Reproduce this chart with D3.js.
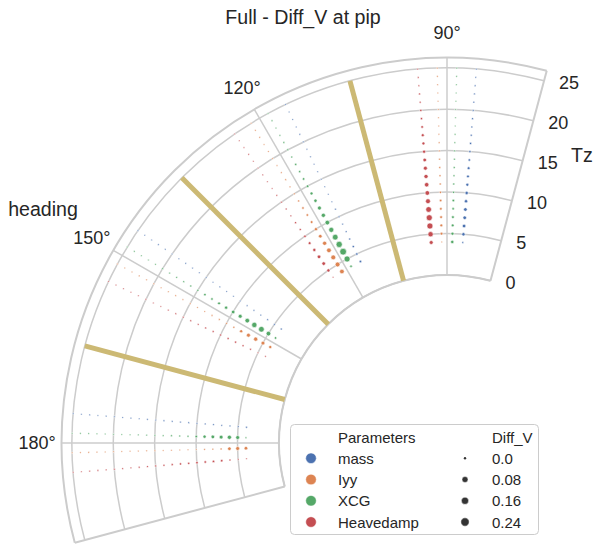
<!DOCTYPE html>
<html>
<head>
<meta charset="utf-8">
<script src="https://cdn.jsdelivr.net/npm/d3@7"></script>
<style>
  body { margin: 0; background: #fff; }
  svg { display: block; }
  text { font-family: "Liberation Sans", Arial, sans-serif; fill: #262626; }
</style>
</head>
<body>
<svg id="chart" width="593" height="546"></svg>
<script>
// ---- data ----
const headings = [90, 120, 150, 180];
const tzValues = [4, 5, 6, 7, 8, 9, 10, 11, 12, 13, 14, 15, 16, 17, 18, 19, 20, 21, 22, 23, 24, 25];
const seriesNames = ["mass", "Iyy", "XCG", "Heavedamp"];
const seriesColors = ["#4C72B0", "#DD8452", "#55A868", "#C44E52"];
// each parameter is dodged around its heading (degrees)
const headingOffset = [-4.5, 1.5, -1.5, 4.5];

// Diff_V per heading (rows: 90, 120, 150, 180), columns follow tzValues
const diffMass = [
  [0.002, 0.02, 0.025, 0.025, 0.025, 0.02, 0.02, 0.015, 0.012, 0.012, 0.008, 0.006, 0.005, 0.004, 0.003, 0.003, 0.002, 0.002, 0.001, 0.001, 0, 0],
  [0.008, 0.008, 0.006, 0.004, 0.002, 0.001, 0.001, 0.001, 0, 0, 0, 0, 0, 0, 0, 0, 0, 0, 0, 0, 0, 0],
  [0.003, 0.001, 0.001, 0.001, 0.001, 0, 0, 0, 0, 0, 0, 0, 0, 0, 0, 0, 0, 0, 0, 0, 0, 0],
  [0.002, 0.001, 0.001, 0.001, 0.001, 0.001, 0.001, 0.001, 0.001, 0.001, 0.001, 0, 0, 0, 0, 0, 0, 0, 0, 0, 0, 0]
];
const diffIyy = [
  [0, 0.012, 0.012, 0.012, 0.01, 0.008, 0.006, 0.005, 0.004, 0.003, 0.002, 0.001, 0.001, 0, 0, 0, 0, 0, 0, 0, 0, 0],
  [0.045, 0.05, 0.05, 0.045, 0.035, 0.025, 0.018, 0.012, 0.008, 0.008, 0.004, 0.002, 0.001, 0.001, 0, 0, 0, 0, 0, 0, 0, 0],
  [0.018, 0.03, 0.035, 0.03, 0.018, 0.004, 0.002, 0.001, 0.001, 0, 0, 0, 0, 0, 0, 0, 0, 0, 0, 0, 0, 0],
  [0.025, 0.03, 0.025, 0.004, 0.001, 0.001, 0, 0, 0, 0, 0, 0, 0, 0, 0, 0, 0, 0, 0, 0, 0, 0]
];
const diffXCG = [
  [0.02, 0.015, 0.012, 0.012, 0.008, 0.008, 0.005, 0.005, 0.003, 0.003, 0.002, 0.002, 0.001, 0.001, 0, 0, 0, 0, 0, 0, 0, 0],
  [0.008, 0.08, 0.12, 0.09, 0.07, 0.055, 0.045, 0.035, 0.03, 0.02, 0.015, 0.01, 0.008, 0.005, 0.005, 0.003, 0.003, 0.002, 0.001, 0.001, 0.001, 0],
  [0.008, 0.045, 0.07, 0.06, 0.045, 0.03, 0.025, 0.018, 0.012, 0.008, 0.008, 0.004, 0.004, 0.002, 0.002, 0.001, 0.001, 0, 0, 0, 0, 0],
  [0.001, 0.03, 0.035, 0.03, 0.025, 0.018, 0.008, 0.004, 0.002, 0.002, 0.001, 0.001, 0, 0, 0, 0, 0, 0, 0, 0, 0, 0]
];
const diffHeavedamp = [
  [0.03, 0.06, 0.08, 0.08, 0.07, 0.05, 0.045, 0.04, 0.035, 0.03, 0.025, 0.018, 0.014, 0.014, 0.01, 0.006, 0.006, 0.003, 0.003, 0.001, 0.001, 0],
  [0, 0.018, 0.025, 0.025, 0.018, 0.012, 0.008, 0.004, 0.004, 0.002, 0.002, 0.001, 0.001, 0, 0, 0, 0, 0, 0, 0, 0, 0],
  [0, 0, 0.002, 0.004, 0.004, 0.004, 0.004, 0.003, 0.003, 0.002, 0.002, 0.001, 0.001, 0.001, 0, 0, 0, 0, 0, 0, 0, 0],
  [0, 0, 0.004, 0.008, 0.008, 0.008, 0.008, 0.006, 0.006, 0.004, 0.004, 0.003, 0.002, 0.002, 0.001, 0.001, 0.001, 0.001, 0.001, 0.001, 0, 0]
];
const seriesDiff = [diffMass, diffIyy, diffXCG, diffHeavedamp];

// sector boundaries (heading, from Tz 0 to Tz 25)
const sectorHeadings = [105, 135, 165];
const sectorTz = [0, 25];

const radialTicks = [0, 5, 10, 15, 20, 25];
const angleTicks = [90, 120, 150, 180];
const sizeLegendValues = [0.0, 0.08, 0.16, 0.24];
const sizeLegendLabels = ["0.0", "0.08", "0.16", "0.24"];

// ---- layout ----
const svg = d3.select("#chart");
const cx = 447, cy = 443;
const thetaMin = 75, thetaMax = 195;
const rMaxValue = 26.25;

const r = d3.scaleLinear().domain([0, 25]).range([168, 375]);
const toRad = d3.scaleLinear().domain([0, 180]).range([0, Math.PI]);
const area = d3.scaleLinear().domain([0, 0.08, 0.24]).range([2.6, 36, 69]).clamp(true);
const markerR = v => Math.sqrt(area(v)) / 2;

const px = (deg, v) => cx + r(v) * Math.cos(toRad(deg));
const py = (deg, v) => cy - r(v) * Math.sin(toRad(deg));

function arcPath(v) {
  const p = d3.path();
  p.arc(cx, cy, r(v), -toRad(thetaMin), -toRad(thetaMax), true);
  return p.toString();
}

const gridColor = "#cccccc";
const grid = svg.append("g");

// circular grid
grid.selectAll("path.rgrid").data(radialTicks).join("path")
  .attr("class", "rgrid")
  .attr("d", d => arcPath(d))
  .attr("fill", "none").attr("stroke", gridColor).attr("stroke-width", 1.5);

// angular grid
grid.selectAll("line.tgrid").data(angleTicks).join("line")
  .attr("class", "tgrid")
  .attr("x1", d => px(d, 0)).attr("y1", d => py(d, 0))
  .attr("x2", d => px(d, rMaxValue)).attr("y2", d => py(d, rMaxValue))
  .attr("stroke", gridColor).attr("stroke-width", 1.5);

// spines
const spine = svg.append("g").attr("fill", "none").attr("stroke", gridColor).attr("stroke-width", 2);
spine.append("path").attr("d", arcPath(rMaxValue));
spine.append("path").attr("d", arcPath(0));
[thetaMin, thetaMax].forEach(t => {
  spine.append("line")
    .attr("x1", px(t, 0)).attr("y1", py(t, 0))
    .attr("x2", px(t, rMaxValue)).attr("y2", py(t, rMaxValue));
});

// sector boundary lines
svg.append("g").selectAll("line").data(sectorHeadings).join("line")
  .attr("x1", d => px(d, sectorTz[0])).attr("y1", d => py(d, sectorTz[0]))
  .attr("x2", d => px(d, sectorTz[1])).attr("y2", d => py(d, sectorTz[1]))
  .attr("stroke", "#CCB974").attr("stroke-width", 5);

// scatter points
const points = [];
seriesNames.forEach((name, si) => {
  headings.forEach((h, hi) => {
    tzValues.forEach((t, ti) => {
      points.push({ si, heading: h + headingOffset[si], tz: t, v: seriesDiff[si][hi][ti] });
    });
  });
});
svg.append("g").selectAll("circle").data(points).join("circle")
  .attr("cx", d => px(d.heading, d.tz))
  .attr("cy", d => py(d.heading, d.tz))
  .attr("r", d => markerR(d.v))
  .attr("fill", d => seriesColors[d.si])
  .attr("stroke", "#fff").attr("stroke-width", 0.6);

// angle tick labels
svg.append("g").selectAll("text").data(angleTicks).join("text")
  .attr("x", d => cx + 410 * Math.cos(toRad(d)))
  .attr("y", d => cy - 410 * Math.sin(toRad(d)))
  .attr("text-anchor", "middle").attr("dominant-baseline", "central")
  .style("font-size", "18px")
  .text(d => d + "°");

// radial tick labels
svg.append("g").selectAll("text").data(radialTicks).join("text")
  .attr("x", d => px(thetaMin, d) + 15)
  .attr("y", d => py(thetaMin, d) + 2.5)
  .attr("text-anchor", "start").attr("dominant-baseline", "central")
  .style("font-size", "18px")
  .text(d => d);

// titles
svg.append("text").attr("x", 303).attr("y", 23.5).attr("text-anchor", "middle")
  .style("font-size", "19.6px").text("Full - Diff_V at pip");
svg.append("text").attr("x", 43).attr("y", 209).attr("text-anchor", "middle")
  .attr("dominant-baseline", "central").style("font-size", "19.6px").text("heading");
svg.append("text").attr("x", 582).attr("y", 155).attr("text-anchor", "middle")
  .attr("dominant-baseline", "central").style("font-size", "19.6px").text("Tz");

// legend
const lg = svg.append("g");
lg.append("rect").attr("x", 290.5).attr("y", 424.5).attr("width", 248).attr("height", 110)
  .attr("rx", 4).attr("fill", "#fff").attr("fill-opacity", 0.85)
  .attr("stroke", gridColor).attr("stroke-width", 1);
const rowY = d3.scaleLinear().domain([0, 4]).range([437, 522]);
lg.append("text").attr("x", 338).attr("y", rowY(0)).attr("dominant-baseline", "central")
  .style("font-size", "15px").text("Parameters");
lg.append("text").attr("x", 492).attr("y", rowY(0)).attr("dominant-baseline", "central")
  .style("font-size", "15px").text("Diff_V");
seriesNames.forEach((name, i) => {
  lg.append("circle").attr("cx", 311).attr("cy", rowY(i + 1)).attr("r", 5.3)
    .attr("fill", seriesColors[i]).attr("stroke", "#fff").attr("stroke-width", 0.5);
  lg.append("text").attr("x", 338).attr("y", rowY(i + 1)).attr("dominant-baseline", "central")
    .style("font-size", "15px").text(name);
});
sizeLegendValues.forEach((v, i) => {
  lg.append("circle").attr("cx", 465).attr("cy", rowY(i + 1)).attr("r", Math.max(markerR(v), 1.2))
    .attr("fill", "#333333").attr("stroke", "#fff").attr("stroke-width", v > 0 ? 0.5 : 0);
  lg.append("text").attr("x", 492).attr("y", rowY(i + 1)).attr("dominant-baseline", "central")
    .style("font-size", "15px").text(sizeLegendLabels[i]);
});
</script>
</body>
</html>
